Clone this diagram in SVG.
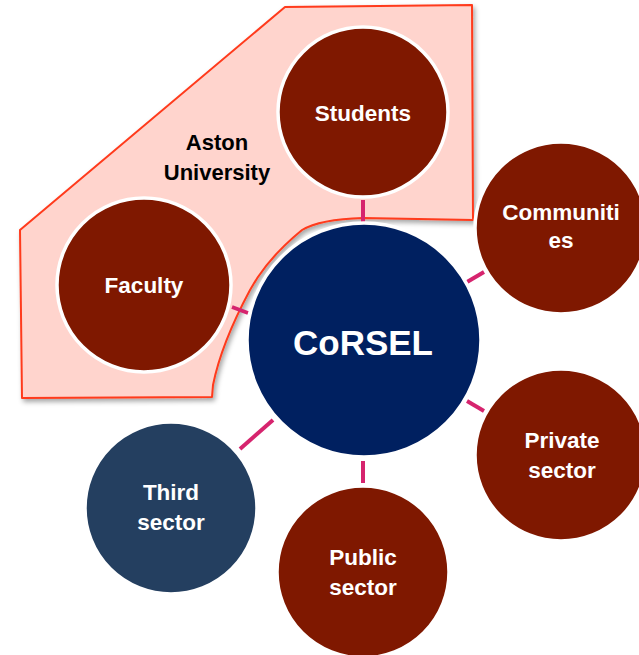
<svg xmlns="http://www.w3.org/2000/svg" width="639" height="655" viewBox="0 0 639 655">
  <defs>
    <filter id="shadow" x="-10%" y="-10%" width="130%" height="130%">
      <feDropShadow dx="2" dy="3" stdDeviation="2.5" flood-color="#000" flood-opacity="0.35"/>
    </filter>
  </defs>
  <style>
    .node circle { stroke: #ffffff; stroke-width: 3.5; }
    .red { fill: #7f1800; }
    .navy { fill: #002060; }
    .slate { fill: #243f60; }
    .lbl { font-family: "Liberation Sans", Arial, sans-serif; font-weight: bold; fill: #ffffff; text-anchor: middle; font-size: 22.5px; }
    .big { font-size: 35px; }
    .conn line { stroke: #d6246e; stroke-width: 4; stroke-linecap: butt; }
    .group-title { font-family: "Liberation Sans", Arial, sans-serif; font-weight: bold; fill: #000000; text-anchor: middle; font-size: 22px; }
  </style>
  <rect width="639" height="655" fill="#ffffff"/>

  <g id="aston-university">
    <path d="M 20 230 L 285 7 L 472 5 L 473 220 L 363 218 C 330 219 312 224 302 230 C 280 248 262 268 250 290 C 235 318 220 350 213 385 L 212 397 L 22 398 Z" fill="#ffd4cd" stroke="#ff3a1c" stroke-width="2" stroke-linejoin="round" filter="url(#shadow)"/>
    <text class="group-title" x="217" y="150">Aston</text>
    <text class="group-title" x="217" y="180">University</text>
  </g>

  <g id="connectors" class="conn">
    <line x1="363" y1="200" x2="363" y2="223"/>
    <line x1="232" y1="307" x2="248" y2="313"/>
    <line x1="467" y1="282" x2="484" y2="272"/>
    <line x1="467" y1="401" x2="484" y2="411"/>
    <line x1="240" y1="449" x2="273" y2="420"/>
    <line x1="363" y1="461" x2="363" y2="483"/>
  </g>

  <g id="students" class="node">
    <circle class="red" cx="363" cy="112" r="85"/>
    <text class="lbl" x="363" y="121">Students</text>
  </g>
  <g id="faculty" class="node">
    <circle class="red" cx="144" cy="285" r="87"/>
    <text class="lbl" x="144" y="293">Faculty</text>
  </g>
  <g id="corsel" class="node">
    <circle class="navy" cx="364" cy="340" r="117"/>
    <text class="lbl big" x="363" y="355">CoRSEL</text>
  </g>
  <g id="communities" class="node">
    <circle class="red" cx="561" cy="228" r="86"/>
    <text class="lbl" x="561" y="220">Communiti</text>
    <text class="lbl" x="561" y="248">es</text>
  </g>
  <g id="private-sector" class="node">
    <circle class="red" cx="561" cy="455" r="86"/>
    <text class="lbl" x="562" y="448">Private</text>
    <text class="lbl" x="562" y="478">sector</text>
  </g>
  <g id="third-sector" class="node">
    <circle class="slate" cx="171" cy="508" r="86"/>
    <text class="lbl" x="171" y="500">Third</text>
    <text class="lbl" x="171" y="530">sector</text>
  </g>
  <g id="public-sector" class="node">
    <circle class="red" cx="363" cy="572" r="86"/>
    <text class="lbl" x="363" y="565">Public</text>
    <text class="lbl" x="363" y="595">sector</text>
  </g>
</svg>
